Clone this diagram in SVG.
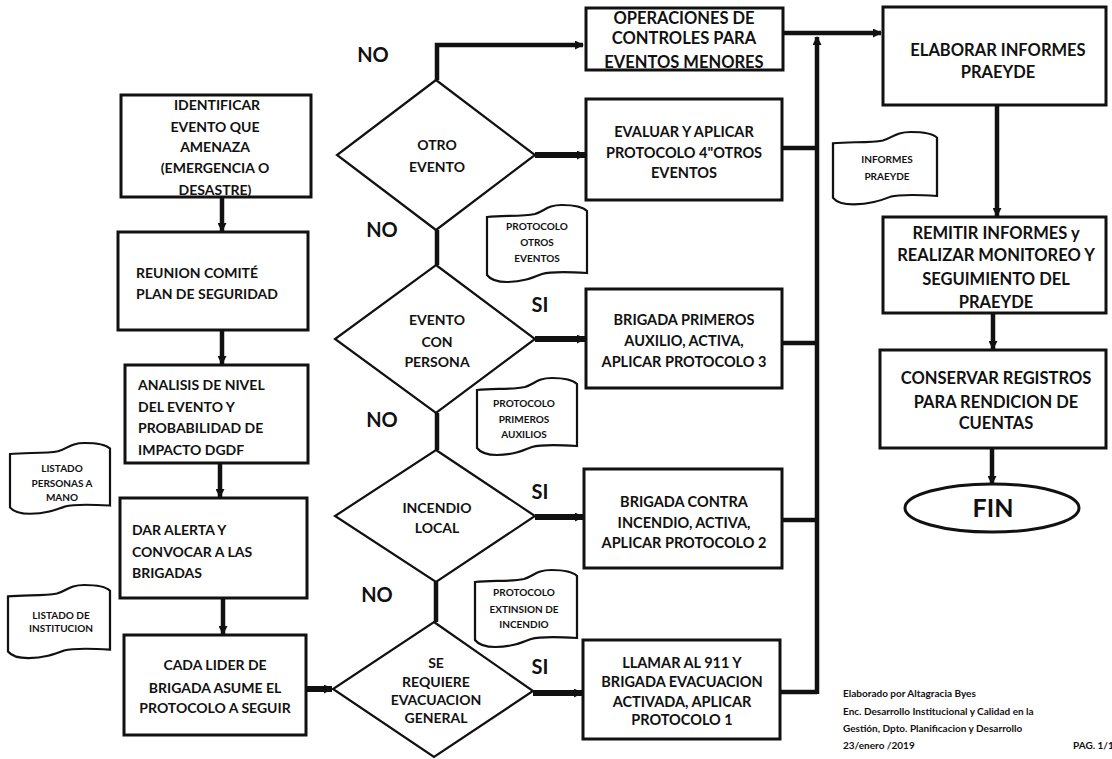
<svg xmlns="http://www.w3.org/2000/svg" width="1112" height="759" viewBox="0 0 1112 759">
<style>
text{font-family:Lato,"Liberation Sans",sans-serif;font-weight:bold;fill:#111}
.box{fill:#fff;stroke:#111;stroke-width:3}
.dia{fill:#fff;stroke:#111;stroke-width:2.2}
.doc{fill:#fff;stroke:#111;stroke-width:2.2}
.t14{font-size:14px}
.t145{font-size:14.5px}
.t16{font-size:16.5px}
.c{text-anchor:middle}
.lbl{font-size:20px;text-anchor:middle}
.dl{font-size:10px;text-anchor:middle}
.ft{font-size:10px}
.con{fill:none;stroke:#111;stroke-width:4.5}
.conw{fill:none;stroke:#111;stroke-width:6}
</style>
<defs>
<marker id="ah" markerUnits="userSpaceOnUse" markerWidth="9" markerHeight="9" refX="8" refY="4.5" orient="auto">
<path d="M0,0 L9,4.5 L0,9 Z" fill="#111"/>
</marker>
<path id="tape" d="M0,12 C15,10 35,12 48,9 C58,6 60,0 75,0 C88,0 96,2 100,6 L100,68 C85,67 65,66 55,69 C45,73 35,77 20,77 C10,77 3,74 0,70 Z"/>
</defs>

<g id="connectors">
<line class="con" x1="222" y1="197" x2="222" y2="231" marker-end="url(#ah)"/>
<line class="con" x1="222" y1="330" x2="222" y2="364" marker-end="url(#ah)"/>
<line class="con" x1="220" y1="463" x2="220" y2="497" marker-end="url(#ah)"/>
<line class="con" x1="223" y1="598" x2="223" y2="634" marker-end="url(#ah)"/>
<line class="conw" x1="306" y1="689" x2="332" y2="689" marker-end="url(#ah)"/>
<path class="con" d="M437,80 V45 H583" marker-end="url(#ah)"/>
<line class="con" x1="437" y1="230" x2="437" y2="265"/>
<line class="con" x1="437" y1="413" x2="437" y2="450"/>
<line class="con" x1="436" y1="582" x2="436" y2="622"/>
<line class="conw" x1="535" y1="155" x2="585" y2="155" marker-end="url(#ah)"/>
<line class="conw" x1="535" y1="339" x2="585" y2="339" marker-end="url(#ah)"/>
<line class="conw" x1="535" y1="517" x2="583" y2="517" marker-end="url(#ah)"/>
<line class="conw" x1="533" y1="693" x2="582" y2="693" marker-end="url(#ah)"/>
<line class="con" x1="782" y1="148" x2="817" y2="148"/>
<line class="con" x1="782" y1="343" x2="817" y2="343"/>
<line class="con" x1="782" y1="520" x2="817" y2="520"/>
<line class="con" x1="780" y1="692" x2="817" y2="692"/>
<line class="con" x1="817" y1="694" x2="817" y2="37" marker-end="url(#ah)"/>
<line class="con" x1="783" y1="33" x2="881" y2="33" marker-end="url(#ah)"/>
<line class="con" x1="997" y1="105" x2="997" y2="216" marker-end="url(#ah)"/>
<line class="con" x1="993" y1="313" x2="993" y2="349" marker-end="url(#ah)"/>
<line class="con" x1="992" y1="448" x2="992" y2="484" marker-end="url(#ah)"/>
</g>

<g id="n_identificar">
<rect class="box" x="121" y="95" width="190" height="102"/>
<text class="t14 c" x="217" y="110">IDENTIFICAR</text>
<text class="t14 c" x="215" y="132">EVENTO  QUE</text>
<text class="t14 c" x="215" y="152">AMENAZA</text>
<text class="t14 c" x="215" y="173">(EMERGENCIA  O</text>
<text class="t14 c" x="215" y="195">DESASTRE)</text>
</g>
<g id="n_reunion">
<rect class="box" x="118" y="232" width="190" height="98"/>
<text class="t14" x="136" y="278">REUNION COMITÉ</text>
<text class="t14" x="136" y="299">PLAN DE SEGURIDAD</text>
</g>
<g id="n_analisis">
<rect class="box" x="125" y="365" width="183" height="98"/>
<text class="t14" x="138" y="390">ANALISIS DE NIVEL</text>
<text class="t14" x="138" y="412">DEL EVENTO  Y</text>
<text class="t14" x="138" y="433">PROBABILIDAD DE</text>
<text class="t14" x="138" y="455">IMPACTO DGDF</text>
</g>
<g id="n_alerta">
<rect class="box" x="120" y="498" width="187" height="100"/>
<text class="t14" x="132" y="535">DAR ALERTA  Y</text>
<text class="t14" x="132" y="557">CONVOCAR  A LAS</text>
<text class="t14" x="132" y="578">BRIGADAS</text>
</g>
<g id="n_lider">
<rect class="box" x="124" y="635" width="182" height="100"/>
<text class="t14 c" x="215" y="670">CADA LIDER  DE</text>
<text class="t14 c" x="215" y="693">BRIGADA ASUME  EL</text>
<text class="t14 c" x="215" y="713">PROTOCOLO A SEGUIR</text>
</g>

<g id="d_listado_personas">
<use href="#tape" class="doc" transform="translate(10,443) scale(1,0.92)"/>
<text class="dl" x="62" y="472">LISTADO</text>
<text class="dl" x="62" y="487">PERSONAS A</text>
<text class="dl" x="62" y="501">MANO</text>
</g>
<g id="d_listado_inst">
<use href="#tape" class="doc" transform="translate(8,585) scale(1.02,0.95)"/>
<text class="dl" x="61" y="619">LISTADO DE</text>
<text class="dl" x="61" y="632">INSTITUCION</text>
</g>

<g id="q_otro">
<polygon class="dia" points="436,80 535,155 436,230 337,155"/>
<text class="t14 c" x="437" y="150">OTRO</text>
<text class="t14 c" x="437" y="172">EVENTO</text>
</g>
<g id="q_persona">
<polygon class="dia" points="436,265 535,339 436,413 335,339"/>
<text class="t14 c" x="437" y="325">EVENTO</text>
<text class="t14 c" x="437" y="347">CON</text>
<text class="t14 c" x="437" y="367">PERSONA</text>
</g>
<g id="q_incendio">
<polygon class="dia" points="436,450 535,516 436,582 335,516"/>
<text class="t14 c" x="437" y="513">INCENDIO</text>
<text class="t14 c" x="437" y="533">LOCAL</text>
</g>
<g id="q_evacuacion">
<polygon class="dia" points="434,622 533,691 434,757 333,689"/>
<text class="t14 c" x="436" y="668">SE</text>
<text class="t14 c" x="436" y="687">REQUIERE</text>
<text class="t14 c" x="436" y="705">EVACUACION</text>
<text class="t14 c" x="436" y="723">GENERAL</text>
</g>

<g id="labels">
<text class="lbl" x="373" y="62">NO</text>
<text class="lbl" x="382" y="237">NO</text>
<text class="lbl" x="540" y="312">SI</text>
<text class="lbl" x="382" y="427">NO</text>
<text class="lbl" x="540" y="499">SI</text>
<text class="lbl" x="377" y="602">NO</text>
<text class="lbl" x="540" y="674">SI</text>
</g>

<g id="d_protocolo_otros">
<use href="#tape" class="doc" transform="translate(487,205)"/>
<text class="dl" x="537" y="230">PROTOCOLO</text>
<text class="dl" x="537" y="246">OTROS</text>
<text class="dl" x="537" y="262">EVENTOS</text>
</g>
<g id="d_protocolo_auxilios">
<use href="#tape" class="doc" transform="translate(477,378)"/>
<text class="dl" x="524" y="407">PROTOCOLO</text>
<text class="dl" x="524" y="423">PRIMEROS</text>
<text class="dl" x="524" y="438">AUXILIOS</text>
</g>
<g id="d_protocolo_incendio">
<use href="#tape" class="doc" transform="translate(475,570) scale(1.02,1)"/>
<text class="dl" x="524" y="596">PROTOCOLO</text>
<text class="dl" x="524" y="613">EXTINSION DE</text>
<text class="dl" x="524" y="628">INCENDIO</text>
</g>

<g id="n_operaciones">
<rect class="box" x="586" y="8" width="197" height="62"/>
<text class="t16 c" x="684" y="24">OPERACIONES DE</text>
<text class="t16 c" x="684" y="44">CONTROLES PARA</text>
<text class="t16 c" x="684" y="68">EVENTOS MENORES</text>
</g>
<g id="n_evaluar">
<rect class="box" x="586" y="99" width="196" height="101"/>
<text class="t145 c" x="684" y="137">EVALUAR  Y APLICAR</text>
<text class="t145 c" x="684" y="158">PROTOCOLO 4"OTROS</text>
<text class="t145 c" x="684" y="178">EVENTOS</text>
</g>
<g id="n_primeros">
<rect class="box" x="586" y="289" width="196" height="99"/>
<text class="t145 c" x="684" y="325">BRIGADA  PRIMEROS</text>
<text class="t145 c" x="684" y="346">AUXILIO, ACTIVA,</text>
<text class="t145 c" x="684" y="367">APLICAR PROTOCOLO  3</text>
</g>
<g id="n_contra">
<rect class="box" x="584" y="469" width="198" height="99"/>
<text class="t145 c" x="684" y="507">BRIGADA CONTRA</text>
<text class="t145 c" x="684" y="528">INCENDIO, ACTIVA,</text>
<text class="t145 c" x="684" y="548">APLICAR PROTOCOLO  2</text>
</g>
<g id="n_llamar">
<rect class="box" x="583" y="640" width="197" height="99"/>
<text class="t145 c" x="682" y="668">LLAMAR  AL 911 Y</text>
<text class="t145 c" x="682" y="687">BRIGADA EVACUACION</text>
<text class="t145 c" x="682" y="707">ACTIVADA,  APLICAR</text>
<text class="t145 c" x="682" y="725">PROTOCOLO 1</text>
</g>

<g id="d_informes">
<use href="#tape" class="doc" transform="translate(833,132) scale(1.04,0.94)"/>
<text class="dl" x="887" y="163">INFORMES</text>
<text class="dl" x="887" y="180">PRAEYDE</text>
</g>

<g id="n_elaborar">
<rect class="box" x="883" y="7" width="223" height="98"/>
<text class="t16 c" x="998" y="56">ELABORAR INFORMES</text>
<text class="t16 c" x="998" y="78">PRAEYDE</text>
</g>
<g id="n_remitir">
<rect class="box" x="883" y="217" width="223" height="96"/>
<text class="t16 c" x="996" y="239">REMITIR INFORMES y</text>
<text class="t16 c" x="996" y="261">REALIZAR  MONITOREO Y</text>
<text class="t16 c" x="996" y="285">SEGUIMIENTO DEL</text>
<text class="t16 c" x="996" y="308">PRAEYDE</text>
</g>
<g id="n_conservar">
<rect class="box" x="880" y="350" width="226" height="98"/>
<text class="t16 c" x="996" y="384">CONSERVAR REGISTROS</text>
<text class="t16 c" x="996" y="408">PARA RENDICION DE</text>
<text class="t16 c" x="996" y="429">CUENTAS</text>
</g>
<g id="n_fin">
<ellipse class="box" cx="992" cy="508" rx="87" ry="24" stroke-width="2.5"/>
<text class="c" x="993" y="517" font-size="25">FIN</text>
</g>

<g id="footer">
<text class="ft" x="843" y="697">Elaborado por  Altagracia Byes</text>
<text class="ft" x="843" y="715">Enc. Desarrollo Institucional  y Calidad en la</text>
<text class="ft" x="843" y="732">Gestión, Dpto. Planificacion  y Desarrollo</text>
<text class="ft" x="843" y="749">23/enero /2019</text>
<text class="ft" x="1073" y="749">PAG. 1/1</text>
</g>
</svg>
